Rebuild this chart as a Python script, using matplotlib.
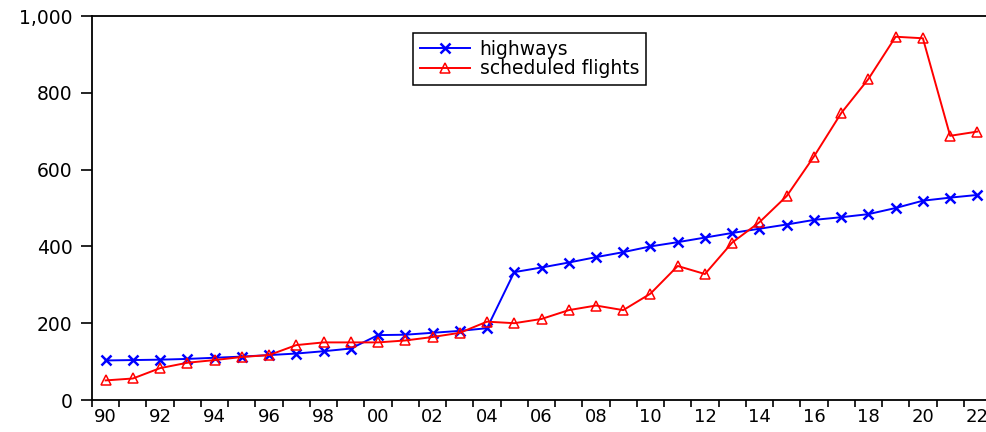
import numpy as np
import matplotlib.pyplot as plt
from matplotlib.ticker import FuncFormatter, MultipleLocator

plt.rcParams['font.family'] = ['DejaVu Sans']

years = list(range(1990, 2023))
highways = [103, 104, 105, 107, 110, 113, 117, 121, 127, 134, 169, 170, 175, 180, 187,
            333, 345, 358, 372, 385, 400, 411, 423, 435, 446, 457, 469, 476, 484, 500,
            519, 527, 534]
flights = [51, 56, 83, 97, 104, 112, 117, 143, 150, 150, 150, 155, 164, 175, 204,
           200, 211, 234, 246, 234, 277, 349, 328, 410, 463, 531, 634, 747, 836, 946,
           942, 688, 699]
year_labels = [f"{y % 100:02d}" for y in range(1990, 2023, 2)]

fig = plt.figure(figsize=(9.87, 4.32), dpi=100)
ax = fig.add_axes([92 / 987, 1 - 400 / 432, (991 - 92) / 987, 384 / 432])

ax.plot(years, highways, color='blue', lw=1.4, marker='x', ms=6.5, mew=1.8, label='highways')
ax.plot(years, flights, color='red', lw=1.4, marker='^', ms=7.5, mfc='none', mew=1.1,
        label='scheduled flights')

ax.set_xlim(1989.5, 2022.5)
ax.set_ylim(0, 1000)
ax.set_xticks(range(1990, 2023, 2))
ax.set_xticklabels(year_labels)
ax.xaxis.set_minor_locator(MultipleLocator(1, offset=0.5))
ax.tick_params(axis='x', which='major', length=0, labelsize=13, pad=6)
ax.tick_params(axis='x', which='minor', length=5, width=1.2, direction='out')
ax.yaxis.set_major_locator(MultipleLocator(200))
ax.yaxis.set_major_formatter(FuncFormatter(lambda v, p: f"{int(v):,}"))
ax.tick_params(axis='y', length=8, width=1.2, direction='out', labelsize=13.5, pad=6)
for s in ax.spines.values():
    s.set_linewidth(1.3)

leg = ax.legend(loc='upper left', bbox_to_anchor=(413 / 987, 1 - 33 / 432),
                bbox_transform=fig.transFigure, fontsize=13.5, frameon=True,
                fancybox=False, edgecolor='black', framealpha=1,
                handlelength=2.7, borderpad=0.35, labelspacing=0.05, handletextpad=0.5,
                borderaxespad=0)
leg.get_frame().set_linewidth(1.1)

fig.savefig('out.png', dpi=100)
